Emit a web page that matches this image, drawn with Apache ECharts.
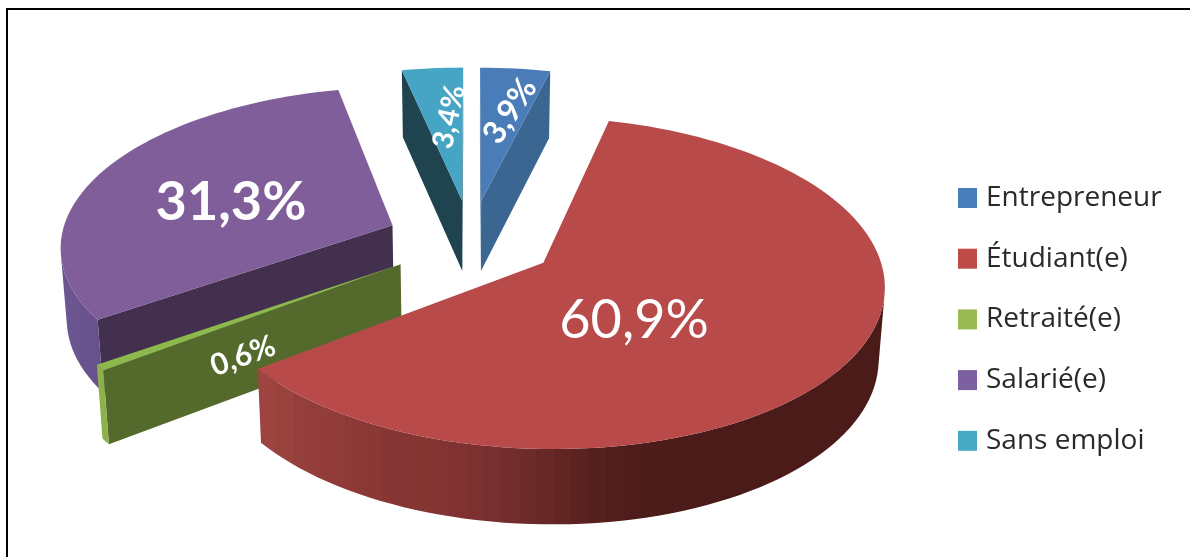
<!DOCTYPE html>
<html>
<head>
<meta charset="utf-8">
<style>html,body{margin:0;padding:0;background:#fff}#chart{width:1190px;height:557px}</style>
<script src="https://cdn.jsdelivr.net/npm/echarts@6/dist/echarts.min.js"></script>
</head>
<body>
<div id="chart"></div>
<script>
// Répartition par statut professionnel
const categories = ['Entrepreneur', 'Étudiant(e)', 'Retraité(e)', 'Salarié(e)', 'Sans emploi'];
const shares = [3.9, 60.9, 0.6, 31.3, 3.4];

// Series are painted back to front, the legend keeps the category order
const paintOrder = ['Salarié(e)', 'Retraité(e)', 'Entrepreneur', 'Sans emploi', 'Étudiant(e)'];

const topColors = { 'Entrepreneur': '#4a7cb8', 'Étudiant(e)': '#b84b4a', 'Retraité(e)': '#8db84c', 'Salarié(e)': '#7f5e99', 'Sans emploi': '#46a5c4' };
const legendColors = { 'Entrepreneur': '#4a7ebb', 'Étudiant(e)': '#be4b48', 'Retraité(e)': '#98b954', 'Salarié(e)': '#7d60a0', 'Sans emploi': '#46aac5' };
const cutColors = { 'Entrepreneur': '#3c6692', 'Étudiant(e)': '#5e2321', 'Retraité(e)': '#546a2c', 'Salarié(e)': '#43304f', 'Sans emploi': '#1f444f' };
// Outer wall shading, left to right across the visible wall
const wallRamps = {
  'Entrepreneur': ['#3c6692', '#3c6692'],
  'Étudiant(e)': ['#9f4541', '#943f3b', '#8e3a38', '#873634', '#823431', '#7b3030', '#6e2b2c', '#5e2321', '#511e1c', '#4a1b19', '#4a1b19', '#4a1b19', '#4a1b19', '#4a1b19', '#4a1b19'],
  'Retraité(e)': ['#8cb14a', '#8cb14a'],
  'Salarié(e)': ['#6d5793', '#6a5490', '#674f89'],
  'Sans emploi': ['#1f444f', '#1f444f']
};
const labelStyles = {
  'Entrepreneur': { x: 510, y: 111, rot: 57, font: 'bold 32px Lato' },
  'Étudiant(e)': { x: 634, y: 321, rot: 0, font: '54px Lato' },
  'Retraité(e)': { x: 243, y: 356, rot: 20, font: 'bold 30px Lato' },
  'Salarié(e)': { x: 231, y: 203, rot: 0, font: 'bold 54px Lato' },
  'Sans emploi': { x: 449, y: 117, rot: 78, font: 'bold 29px Lato' }
};

// Perspective projection of the tilted pie onto the page
const CX = 471, CY = 240, RX = 332, RY = 158, PERSP = 0.12;
const THICK = 71, THICK_PERSP = 0.05, BASE_SHRINK = 0.985;
const EXPLODE = 0.257, STEP = Math.PI / 90, BANDS = 36;

function project(wx, wy, isBase) {
  const p = 1 + PERSP * wy;
  let x = RX * wx / p;
  let y = -RY * wy / p;
  if (isBase) {
    x *= BASE_SHRINK;
    y += THICK / (1 + THICK_PERSP * wy);
  }
  return [CX + x, CY + y];
}

function shoelace(pts) {
  let s = 0;
  for (let i = 0; i < pts.length; i++) {
    const a = pts[i], b = pts[(i + 1) % pts.length];
    s += a[0] * b[1] - b[0] * a[1];
  }
  return s;
}

function mix(ramp, t) {
  const f = Math.max(0, Math.min(1, t)) * (ramp.length - 1);
  const i = Math.min(ramp.length - 2, Math.floor(f));
  const a = echarts.color.parse(ramp[i]), b = echarts.color.parse(ramp[i + 1]);
  const u = f - i;
  return 'rgb(' + [0, 1, 2].map(k => Math.round(a[k] + (b[k] - a[k]) * u)).join(',') + ')';
}

// Hard-stopped horizontal gradient: the wall shading moves in visible bands
function bandedFill(ramp) {
  const stops = [];
  for (let i = 0; i < BANDS; i++) {
    const c = mix(ramp, (i + 0.5) / BANDS);
    stops.push({ offset: i / BANDS, color: c }, { offset: (i + 1) / BANDS, color: c });
  }
  return new echarts.graphic.LinearGradient(0, 0, 1, 0, stops);
}

function polygon(points, fill) {
  return { type: 'polygon', shape: { points }, style: { fill } };
}

const total = shares.reduce((s, v) => s + v, 0);

function renderSlice(params, api) {
  const name = params.seriesName;
  const value = api.value(0), before = api.value(1);
  const from = before / total * 2 * Math.PI;
  const to = (before + value) / total * 2 * Math.PI;
  const mid = (from + to) / 2;
  const ox = EXPLODE * Math.sin(mid), oy = EXPLODE * Math.cos(mid);
  const rim = (a, isBase) => project(ox + Math.sin(a), oy + Math.cos(a), isBase);
  const apex = isBase => project(ox, oy, isBase);
  const children = [];

  // Radial cut faces, kept only when they look towards the viewer
  const startFace = [apex(false), rim(from, false), rim(from, true), apex(true)];
  if (shoelace(startFace) < 0) children.push(polygon(startFace, cutColors[name]));
  const endFace = [apex(false), rim(to, false), rim(to, true), apex(true)];
  if (shoelace(endFace) > 0) children.push(polygon(endFace, cutColors[name]));

  // Outer wall: only the part of the rim that faces the viewer
  const count = Math.max(1, Math.ceil((to - from) / STEP));
  const upper = [], lower = [];
  for (let i = 0; i < count; i++) {
    const a = from + (to - from) * i / count, b = from + (to - from) * (i + 1) / count;
    const strip = [rim(a, false), rim(b, false), rim(b, true), rim(a, true)];
    if (shoelace(strip) < 0) {
      if (!upper.length) { upper.push(strip[0]); lower.push(strip[3]); }
      upper.push(strip[1]);
      lower.push(strip[2]);
    }
  }
  if (upper.length) {
    children.push(polygon(upper.concat(lower.reverse()), bandedFill(wallRamps[name])));
  }

  // Top face
  const top = [apex(false)];
  for (let i = 0; i <= count; i++) top.push(rim(from + (to - from) * i / count, false));
  children.push(polygon(top, topColors[name]));

  // Value label
  const ls = labelStyles[name];
  children.push({
    type: 'text', x: ls.x, y: ls.y, rotation: ls.rot * Math.PI / 180,
    style: {
      text: value.toFixed(1).replace('.', ',') + '%',
      fill: '#fff', font: ls.font, align: 'center', verticalAlign: 'middle'
    }
  });
  return { type: 'group', children };
}

const series = paintOrder.map(name => {
  const idx = categories.indexOf(name);
  const before = shares.slice(0, idx).reduce((s, v) => s + v, 0);
  return {
    type: 'custom', name, coordinateSystem: 'none', silent: true,
    renderItem: renderSlice,
    itemStyle: { color: legendColors[name] },
    data: [[shares[idx], before]]
  };
});

const chart = echarts.init(document.getElementById('chart'), null, { renderer: 'canvas' });
chart.setOption({
  animation: false,
  backgroundColor: '#fff',
  graphic: [{
    type: 'rect', silent: true,
    shape: { x: 7, y: 9, width: 1240, height: 600 },
    style: { fill: 'none', stroke: '#000', lineWidth: 2 }
  }],
  legend: {
    orient: 'vertical', left: 958, top: 184,
    icon: 'rect', itemWidth: 19, itemHeight: 20, itemGap: 32.7,
    padding: 0, selectedMode: false,
    data: categories,
    textStyle: { fontFamily: 'Open Sans', fontSize: 28, color: '#2a2a2a', padding: [0, 0, 0, 4] }
  },
  series
});
</script>
</body>
</html>
